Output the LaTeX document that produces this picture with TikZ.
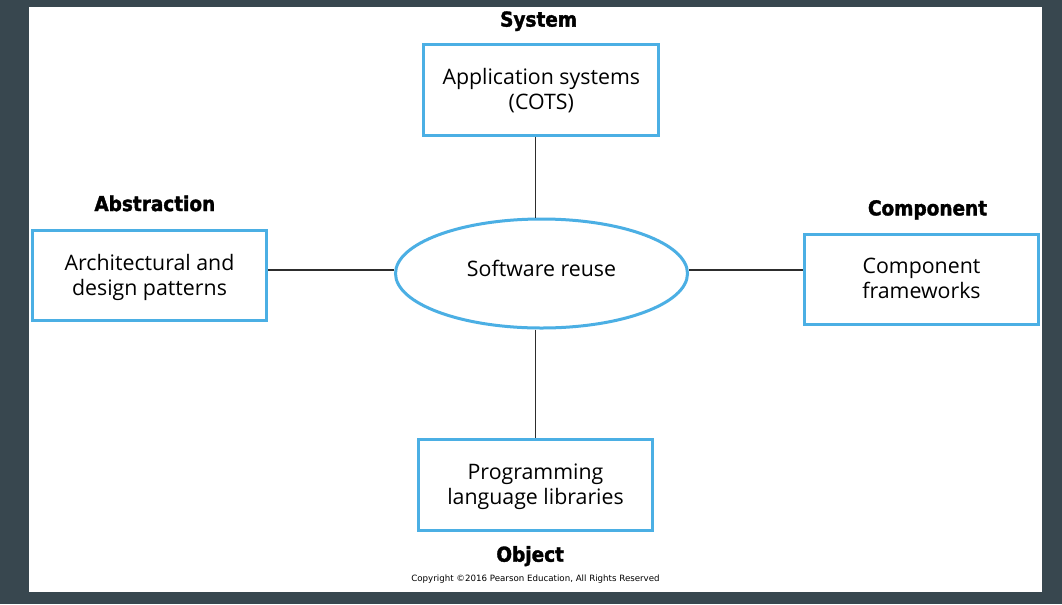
\documentclass[tikz,border=0pt]{standalone}
\usepackage{fontspec}
\setmainfont{Open Sans}
\newfontfamily\lblfont{DejaVu Sans Condensed}[BoldFeatures={FakeBold=1.6}]
\newfontfamily\copyfont{DejaVu Sans}
\usetikzlibrary{positioning, shapes.geometric}
\definecolor{reuseblue}{RGB}{75,175,228}
\definecolor{slate}{RGB}{56,71,79}
\definecolor{wiregray}{RGB}{45,45,45}

\begin{document}
\begin{tikzpicture}[x=0.75pt, y=-0.75pt,
    box/.style={draw=reuseblue, line width=2.25pt, rectangle, align=center, minimum width=176pt, minimum height=68pt, font=\fontsize{16}{18.75}\selectfont},
    lbl/.style={inner sep=0pt, text depth=0pt, font=\lblfont\bfseries\fontsize{15.4}{18}\selectfont},
    wire/.style={draw=wiregray, line width=1.1pt}]
    \fill [slate] (0, 0) rectangle (1062, 604);
    \fill [white] (29, 7.3) rectangle (1041.7, 591.7);

    \node (reuse) [draw=reuseblue, line width=2.25pt, ellipse, minimum width=219pt, minimum height=81.75pt, text depth=8.2pt, font=\fontsize{16}{18.75}\selectfont] at (541.5, 273.5) {Software reuse};
    \node (sysbox) [box, text depth=1.5pt] at (541.3, 89.7) {Application systems\\(COTS)};
    \node (absbox) [box, text depth=1.5pt] at (149.5, 275.5) {Architectural and\\design patterns};
    \node (compbox) [box, text depth=1.5pt] at (921.5, 279.5) {Component\\frameworks};
    \node (objbox) [box, text depth=1.5pt] at (535.5, 485) {Programming\\language libraries};

    \node (syslbl) [lbl, above=12pt of sysbox, xshift=-2pt] {System};
    \node (abslbl) [lbl, above=13pt of absbox, xshift=4pt] {Abstraction};
    \node (complbl) [lbl, above=12.75pt of compbox, xshift=4.5pt] {Component};
    \node (objlbl) [lbl, below=10.5pt of objbox, xshift=-4pt] {Object};
    \node (copy) [inner sep=0pt, font=\copyfont\fontsize{6.5}{7}\selectfont, below=32pt of objbox] {Copyright ©2016 Pearson Education, All Rights Reserved};

    \draw [wire] (objbox.north |- sysbox.south) -- (objbox.north |- reuse.north);
    \draw [wire] (objbox.north |- reuse.south) -- (objbox.north);
    \draw [wire] ([yshift=2.6pt]reuse.west) -- ([yshift=2.6pt]reuse.west -| absbox.east);
    \draw [wire] ([yshift=2.6pt]reuse.east) -- ([yshift=2.6pt]reuse.east -| compbox.west);
\end{tikzpicture}
\end{document}
